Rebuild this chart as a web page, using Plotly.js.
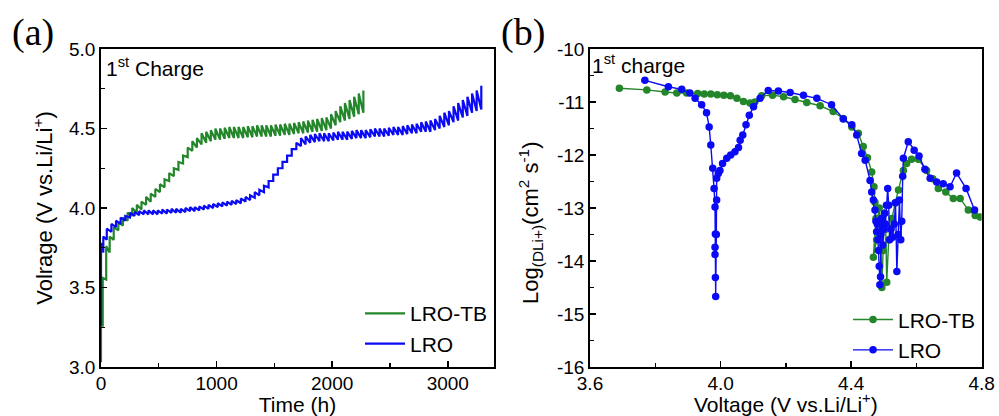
<!DOCTYPE html>
<html>
<head>
<meta charset="utf-8">
<script src="https://cdn.plot.ly/plotly-3.0.1.min.js"></script>
<style>html,body{margin:0;padding:0;background:#fff;}#chart{width:999px;height:416px;}</style>
</head>
<body>
<div id="chart"></div>
<script>
// ---------- Panel (a): 1st charge GITT voltage profile ----------
// pulse times (h), relaxed voltage (band bottom) and pulse-top voltage
const tG  = [0, 15, 45, 75, 110, 150, 190, 230,
  270, 310, 350, 390, 430, 470, 510, 550, 590, 630,
  670, 710, 750, 790, 830, 870, 910, 950, 990, 1030,
  1070, 1110, 1150, 1190, 1230, 1270, 1310, 1350, 1390, 1430,
  1470, 1510, 1550, 1590, 1630, 1670, 1710, 1750, 1790, 1830,
  1870, 1910, 1950, 1990, 2030, 2070, 2110, 2150, 2190, 2230, 2270];
const loG = [3.03, 3.26, 3.55, 3.72, 3.80, 3.86, 3.89, 3.92,
  3.95, 3.97, 3.99, 4.02, 4.04, 4.07, 4.10, 4.13, 4.17, 4.20,
  4.24, 4.28, 4.32, 4.36, 4.38, 4.40, 4.41, 4.42, 4.43, 4.43,
  4.435, 4.44, 4.44, 4.44, 4.44, 4.445, 4.445, 4.45, 4.45, 4.45,
  4.45, 4.455, 4.455, 4.46, 4.46, 4.465, 4.47, 4.47, 4.475, 4.48,
  4.48, 4.485, 4.49, 4.50, 4.52, 4.54, 4.55, 4.56, 4.575, 4.59, 4.60];
const hiG = [3.26, 3.56, 3.76, 3.82, 3.88, 3.91, 3.94, 3.97,
  4.00, 4.02, 4.04, 4.07, 4.09, 4.12, 4.15, 4.18, 4.22, 4.25,
  4.29, 4.33, 4.38, 4.42, 4.44, 4.47, 4.48, 4.49, 4.50, 4.50,
  4.505, 4.51, 4.51, 4.51, 4.51, 4.515, 4.515, 4.52, 4.52, 4.52,
  4.52, 4.525, 4.525, 4.53, 4.53, 4.535, 4.54, 4.545, 4.55, 4.555,
  4.56, 4.565, 4.57, 4.59, 4.61, 4.64, 4.66, 4.68, 4.70, 4.72, 4.74];

const tB  = [0, 20, 50, 90, 130, 170, 210, 250,
  290, 330, 370, 410, 450, 490, 530, 570, 610, 650,
  690, 730, 770, 810, 850, 890, 930, 970, 1010, 1050,
  1090, 1130, 1170, 1210, 1250, 1290, 1330, 1370, 1410, 1450,
  1490, 1530, 1570, 1610, 1650, 1690, 1730, 1770, 1810, 1850,
  1890, 1930, 1970, 2010, 2050, 2090, 2130, 2170, 2210, 2250,
  2290, 2330, 2370, 2410, 2450, 2490, 2530, 2570, 2610, 2650,
  2690, 2730, 2770, 2810, 2850, 2890, 2930, 2970, 3010, 3050,
  3090, 3130, 3170, 3210, 3250, 3290];
const loB = [3.26, 3.72, 3.80, 3.85, 3.88, 3.90, 3.92, 3.94,
  3.95, 3.955, 3.96, 3.96, 3.96, 3.96, 3.965, 3.965, 3.97, 3.97,
  3.97, 3.975, 3.98, 3.98, 3.985, 3.99, 3.995, 4.00, 4.005, 4.01,
  4.015, 4.02, 4.025, 4.03, 4.04, 4.05, 4.065, 4.08, 4.10, 4.13,
  4.17, 4.21, 4.25, 4.29, 4.33, 4.37, 4.39, 4.40, 4.41, 4.415,
  4.42, 4.42, 4.42, 4.425, 4.43, 4.43, 4.43, 4.435, 4.44, 4.44,
  4.44, 4.445, 4.45, 4.45, 4.45, 4.455, 4.46, 4.46, 4.46, 4.465,
  4.47, 4.47, 4.48, 4.48, 4.48, 4.49, 4.50, 4.51, 4.52, 4.54,
  4.55, 4.57, 4.58, 4.60, 4.61, 4.62];
const hiB = [3.78, 3.82, 3.87, 3.90, 3.92, 3.94, 3.95, 3.97,
  3.975, 3.98, 3.985, 3.985, 3.985, 3.985, 3.99, 3.99, 3.995, 3.995,
  3.995, 4.00, 4.005, 4.005, 4.01, 4.015, 4.02, 4.025, 4.03, 4.035,
  4.04, 4.045, 4.05, 4.06, 4.07, 4.08, 4.10, 4.115, 4.14, 4.17,
  4.21, 4.25, 4.29, 4.33, 4.37, 4.41, 4.44, 4.45, 4.46, 4.465,
  4.47, 4.47, 4.47, 4.475, 4.48, 4.48, 4.48, 4.485, 4.49, 4.49,
  4.49, 4.495, 4.50, 4.50, 4.50, 4.505, 4.51, 4.51, 4.515, 4.52,
  4.525, 4.53, 4.54, 4.545, 4.55, 4.56, 4.58, 4.60, 4.61, 4.64,
  4.66, 4.68, 4.70, 4.72, 4.74, 4.77];

// ---------- Panel (b): Li-ion diffusion coefficient vs voltage ----------
const vG = [3.690, 3.774, 3.830, 3.866, 3.896, 3.930, 3.950, 3.970, 3.990, 4.010,
  4.030, 4.050, 4.070, 4.090, 4.105, 4.126, 4.159, 4.193, 4.228, 4.264,
  4.305, 4.345, 4.376, 4.402, 4.422, 4.437, 4.450, 4.463, 4.470, 4.473,
  4.476, 4.468, 4.478, 4.482, 4.486, 4.490, 4.494, 4.498, 4.502, 4.506,
  4.509, 4.515, 4.525, 4.535, 4.545, 4.560, 4.570, 4.585, 4.606, 4.631,
  4.650, 4.667, 4.690, 4.713, 4.734, 4.759, 4.780, 4.795];
const dG = [-10.74, -10.77, -10.81, -10.83, -10.83, -10.84, -10.85, -10.85, -10.86, -10.87,
  -10.88, -10.93, -10.99, -11.02, -11.00, -10.88, -10.87, -10.90, -10.95, -11.01,
  -11.07, -11.18, -11.31, -11.47, -11.59, -11.84, -12.05, -12.32, -12.60, -12.89,
  -13.20, -13.93, -13.60, -13.20, -13.00, -13.30, -14.50, -13.80, -13.10, -13.40,
  -14.40, -13.60, -13.20, -12.90, -12.66, -12.29, -12.16, -12.08, -12.08, -12.29,
  -12.45, -12.63, -12.70, -12.82, -12.82, -13.04, -13.14, -13.17];

const vB = [3.768, 3.840, 3.881, 3.906, 3.922, 3.942, 3.957, 3.965, 3.970, 3.976,
  3.980, 3.983, 3.984, 3.983, 3.983, 3.984, 3.985, 3.987, 3.988, 3.988,
  3.993, 3.998, 4.006, 4.019, 4.031, 4.044, 4.055, 4.060, 4.068, 4.078,
  4.088, 4.101, 4.121, 4.146, 4.177, 4.213, 4.254, 4.295, 4.340, 4.376,
  4.402, 4.417, 4.432, 4.443, 4.458, 4.463, 4.468, 4.473, 4.476, 4.478,
  4.480, 4.482, 4.484, 4.486, 4.488, 4.490, 4.491, 4.493, 4.495, 4.497,
  4.500, 4.503, 4.505, 4.508, 4.512, 4.515, 4.518, 4.522, 4.527, 4.532,
  4.536, 4.540, 4.544, 4.548, 4.552, 4.555, 4.558, 4.560, 4.575, 4.593,
  4.608, 4.626, 4.642, 4.662, 4.682, 4.703, 4.723, 4.752, 4.778];
const dB = [-10.59, -10.71, -10.76, -10.83, -10.93, -11.05, -11.20, -11.47, -11.81, -12.25,
  -12.63, -12.98, -13.49, -13.74, -13.88, -14.31, -14.67, -13.50, -12.85, -12.44,
  -12.35, -12.29, -12.16, -12.06, -12.00, -11.94, -11.86, -11.72, -11.62, -11.43,
  -11.25, -11.09, -10.93, -10.78, -10.79, -10.82, -10.87, -10.93, -11.05, -11.32,
  -11.43, -11.62, -11.97, -12.10, -12.48, -12.70, -12.85, -13.04, -13.25, -13.45,
  -13.30, -13.60, -13.80, -14.10, -14.45, -14.30, -13.50, -13.20, -13.40, -13.70,
  -13.40, -13.10, -13.30, -12.95, -12.63, -12.95, -13.60, -13.40, -13.55, -13.30,
  -12.90, -14.20, -13.50, -12.85, -13.60, -13.25, -12.40, -12.06, -11.75, -11.91,
  -12.02, -12.27, -12.44, -12.51, -12.54, -12.60, -12.34, -12.63, -13.04];

const seriesNames = ['LRO-TB', 'LRO'];
const xTicksA = [0, 1000, 2000, 3000];
const yTicksA = [3.0, 3.5, 4.0, 4.5, 5.0];
const xTicksB = [3.6, 4.0, 4.4, 4.8];
const yTicksB = [-16, -15, -14, -13, -12, -11, -10];
const yTickTextB = ['-16', '-15', '-14', '-13', '-12', '-11', '-10'];

const GREEN = '#23862a';
const BLUE = '#0a0af5';

// build GITT sawtooth path from the pulse arrays
function gitt(t, lo, hi) {
  const x = [], y = [];
  for (let i = 0; i < t.length; i++) {
    x.push(t[i], t[i]);
    y.push(lo[i], hi[i]);
  }
  return {x, y};
}
const gA = gitt(tG, loG, hiG);
const bA = gitt(tB, loB, hiB);

const FONT = 'Liberation Sans, Arial, sans-serif';
const TICK = 19, TTL = 21;

const traces = [
  {x: gA.x, y: gA.y, xaxis: 'x', yaxis: 'y', mode: 'lines', name: seriesNames[0],
   line: {color: GREEN, width: 2.2}, legend: 'legend'},
  {x: bA.x, y: bA.y, xaxis: 'x', yaxis: 'y', mode: 'lines', name: seriesNames[1],
   line: {color: BLUE, width: 2.2}, legend: 'legend'},
  {x: vG, y: dG, xaxis: 'x2', yaxis: 'y2', mode: 'lines+markers', name: seriesNames[0],
   line: {color: GREEN, width: 1.4}, marker: {color: GREEN, size: 7.5, symbol: 'circle'}, legend: 'legend2'},
  {x: vB, y: dB, xaxis: 'x2', yaxis: 'y2', mode: 'lines+markers', name: seriesNames[1],
   line: {color: BLUE, width: 1.4}, marker: {color: BLUE, size: 7.5, symbol: 'circle'}, legend: 'legend2'}
];

const axBase = {
  showline: true, linecolor: '#000', linewidth: 1.8, mirror: true,
  ticks: 'inside', ticklen: 6, tickwidth: 1.5, tickcolor: '#000',
  showgrid: false, zeroline: false,
  tickfont: {family: FONT, size: TICK, color: '#000'}
};
const minorBase = {ticks: 'inside', ticklen: 4, tickwidth: 1.3, tickcolor: '#000'};
const ttlFont = {family: FONT, size: TTL, color: '#000'};

const layout = {
  width: 999, height: 416,
  margin: {l: 0, r: 0, t: 0, b: 0},
  paper_bgcolor: '#fff', plot_bgcolor: '#fff',
  showlegend: true,
  font: {family: FONT, color: '#000'},
  xaxis: Object.assign({}, axBase, {
    domain: [0.1011, 0.4945], range: [0, 3400], anchor: 'y',
    tickvals: xTicksA, ticktext: xTicksA.map(String), ticklabelstandoff: -2,
    minor: Object.assign({dtick: 500, tick0: 0}, minorBase),
    title: {text: 'Time (h)', standoff: 3, font: ttlFont}
  }),
  yaxis: Object.assign({}, axBase, {
    domain: [0.118, 0.882], range: [3, 5], anchor: 'x',
    tickvals: yTicksA, ticktext: yTicksA.map(v => v.toFixed(1)),
    minor: Object.assign({dtick: 0.25, tick0: 3}, minorBase),
    title: {text: 'Volrage (V vs.Li/Li<sup>+</sup>)', standoff: 10, font: {family: FONT, size: 22, color: '#000'}}
  }),
  xaxis2: Object.assign({}, axBase, {
    domain: [0.5906, 0.9827], range: [3.6, 4.8], anchor: 'y2',
    tickvals: xTicksB, ticktext: xTicksB.map(v => v.toFixed(1)), ticklabelstandoff: -2,
    minor: Object.assign({dtick: 0.2, tick0: 3.6}, minorBase),
    title: {text: 'Voltage (V vs.Li/Li<sup>+</sup>)', standoff: 4, font: ttlFont}
  }),
  yaxis2: Object.assign({}, axBase, {
    domain: [0.118, 0.882], range: [-16, -10], anchor: 'x2',
    tickvals: yTicksB, ticktext: yTickTextB,
    minor: Object.assign({dtick: 0.5, tick0: -16}, minorBase)
  }),
  legend: {
    x: 0.4935, y: 0.21, xanchor: 'right', yanchor: 'middle',
    bgcolor: 'rgba(0,0,0,0)', borderwidth: 0,
    font: {family: FONT, size: 21, color: '#000'},
    itemwidth: 40, tracegroupgap: 0, itemclick: false
  },
  legend2: {
    x: 0.982, y: 0.195, xanchor: 'right', yanchor: 'middle',
    bgcolor: 'rgba(0,0,0,0)', borderwidth: 0,
    font: {family: FONT, size: 21, color: '#000'},
    itemwidth: 40, tracegroupgap: 0, itemclick: false
  },
  annotations: [
    {text: '(a)', xref: 'paper', yref: 'paper', x: 0.01, y: 0.921, xanchor: 'left', yanchor: 'middle',
     showarrow: false, font: {family: 'Liberation Serif, Times New Roman, serif', size: 38, color: '#000'}},
    {text: '(b)', xref: 'paper', yref: 'paper', x: 0.499, y: 0.921, xanchor: 'left', yanchor: 'middle',
     showarrow: false, font: {family: 'Liberation Serif, Times New Roman, serif', size: 38, color: '#000'}},
    {text: '1<sup>st</sup> Charge', xref: 'paper', yref: 'paper', x: 0.104, y: 0.84, xanchor: 'left', yanchor: 'middle',
     showarrow: false, font: {family: FONT, size: 21, color: '#000'}},
    {text: '1<sup>st</sup> charge', xref: 'paper', yref: 'paper', x: 0.591, y: 0.845, xanchor: 'left', yanchor: 'middle',
     showarrow: false, font: {family: FONT, size: 21, color: '#000'}},
    {text: 'Log<sub>(DLi+)</sub>(cm<sup>2</sup> s<sup>-1</sup>)', xref: 'paper', yref: 'paper',
     x: 0.5315, y: 0.464, xanchor: 'center', yanchor: 'middle', textangle: -90,
     showarrow: false, font: {family: FONT, size: 22, color: '#000'}}
  ]
};

Plotly.newPlot('chart', traces, layout, {staticPlot: true, displayModeBar: false});
</script>
</body>
</html>
